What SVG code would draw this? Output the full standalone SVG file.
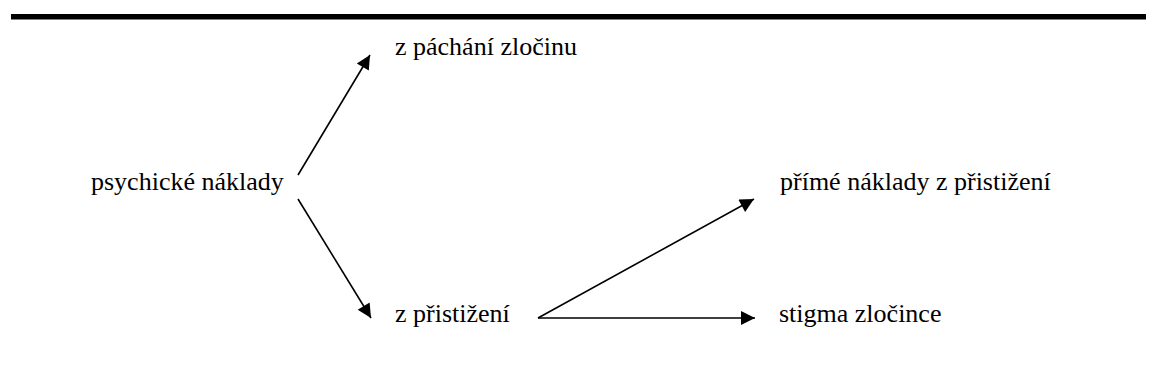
<svg xmlns="http://www.w3.org/2000/svg" width="1151" height="384" viewBox="0 0 1151 384">
<style>
text{font-family:"Liberation Serif","Times New Roman",serif;font-size:26px;fill:#000}
.c line{stroke:#000;stroke-width:1.6}
</style>
<defs>
<marker id="ah" viewBox="0 0 10 10" refX="10" refY="5" markerUnits="userSpaceOnUse" markerWidth="17" markerHeight="14" orient="auto">
<path d="M0,0 L10,5 L0,10 z" fill="#000"/>
</marker>
</defs>
<rect x="11" y="14" width="1135" height="5.5" fill="#000"/>
<g id="n1"><text x="91" y="190">psychické náklady</text></g>
<g id="n2"><text x="395" y="55">z páchání zločinu</text></g>
<g id="n3"><text x="395" y="322">z přistižení</text></g>
<g id="n4"><text x="780" y="190">přímé náklady z přistižení</text></g>
<g id="n5"><text x="779" y="322">stigma zločince</text></g>
<g class="c" id="connectors">
<line x1="298" y1="175" x2="370" y2="55" marker-end="url(#ah)"/>
<line x1="298" y1="199" x2="371" y2="318" marker-end="url(#ah)"/>
<line x1="538" y1="318" x2="754" y2="199" marker-end="url(#ah)"/>
<line x1="538" y1="318" x2="755" y2="318" marker-end="url(#ah)"/>
</g>
</svg>
